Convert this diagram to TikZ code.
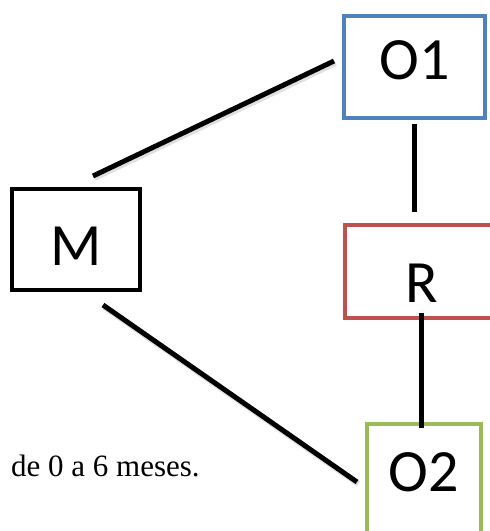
\documentclass[tikz,border=0pt]{standalone}
\usepackage{fontspec}
\setmainfont{Liberation Serif}
\newfontfamily\carl{Carlito}
\definecolor{oblue}{HTML}{4F81BD}
\definecolor{ored}{HTML}{C0504D}
\definecolor{ogreen}{HTML}{9BBB59}
\begin{document}
\begin{tikzpicture}[x=1pt,y=-1pt,
  boxstyle/.style={draw, line width=4pt, inner sep=0pt, anchor=north, font=\carl\fontsize{60}{64}\selectfont},
  conn/.style={line width=5pt, black},
  shadowline/.style={line width=6pt, black, opacity=0.12}]
\useasboundingbox (0,0) rectangle (490,531);
\node[boxstyle, draw=oblue, minimum width=141pt, text height=63pt, text depth=39pt] (O1) at (414.5,14) {O1};
\node[boxstyle, draw=black, minimum width=128pt, text height=76pt, text depth=25pt] (M) at (76,187) {M};
\node[boxstyle, draw=ored, minimum width=154pt, text height=77pt, text depth=16pt] (R) at (422,223) {R};
\node[boxstyle, draw=ogreen, minimum width=114pt, text height=67pt, text depth=51pt] (O2) at (424,422) {O2};
\node[anchor=base west, inner sep=0pt, font=\fontsize{31}{35}\selectfont] (txt) at (11,476) {de 0 a 6 meses.};
\coordinate (mo1a) at (93,176);
\coordinate (mo1b) at (334,61);
\coordinate (mo2a) at (103,305);
\coordinate (mo2b) at (357,482);
\coordinate (o1ra) at (414,124);
\coordinate (o1rb) at (414,212);
\coordinate (ro2a) at (421,313);
\coordinate (ro2b) at (421,428);
\draw[shadowline, transform canvas={shift={(1.5pt,-2pt)}}] (mo1a) -- (mo1b);
\draw[shadowline, transform canvas={shift={(1.5pt,-2pt)}}] (mo2a) -- (mo2b);
\draw[conn] (mo1a) -- (mo1b);
\draw[conn] (mo2a) -- (mo2b);
\draw[conn] (o1ra) -- (o1rb);
\draw[conn] (ro2a) -- (ro2b);
\end{tikzpicture}
\end{document}
